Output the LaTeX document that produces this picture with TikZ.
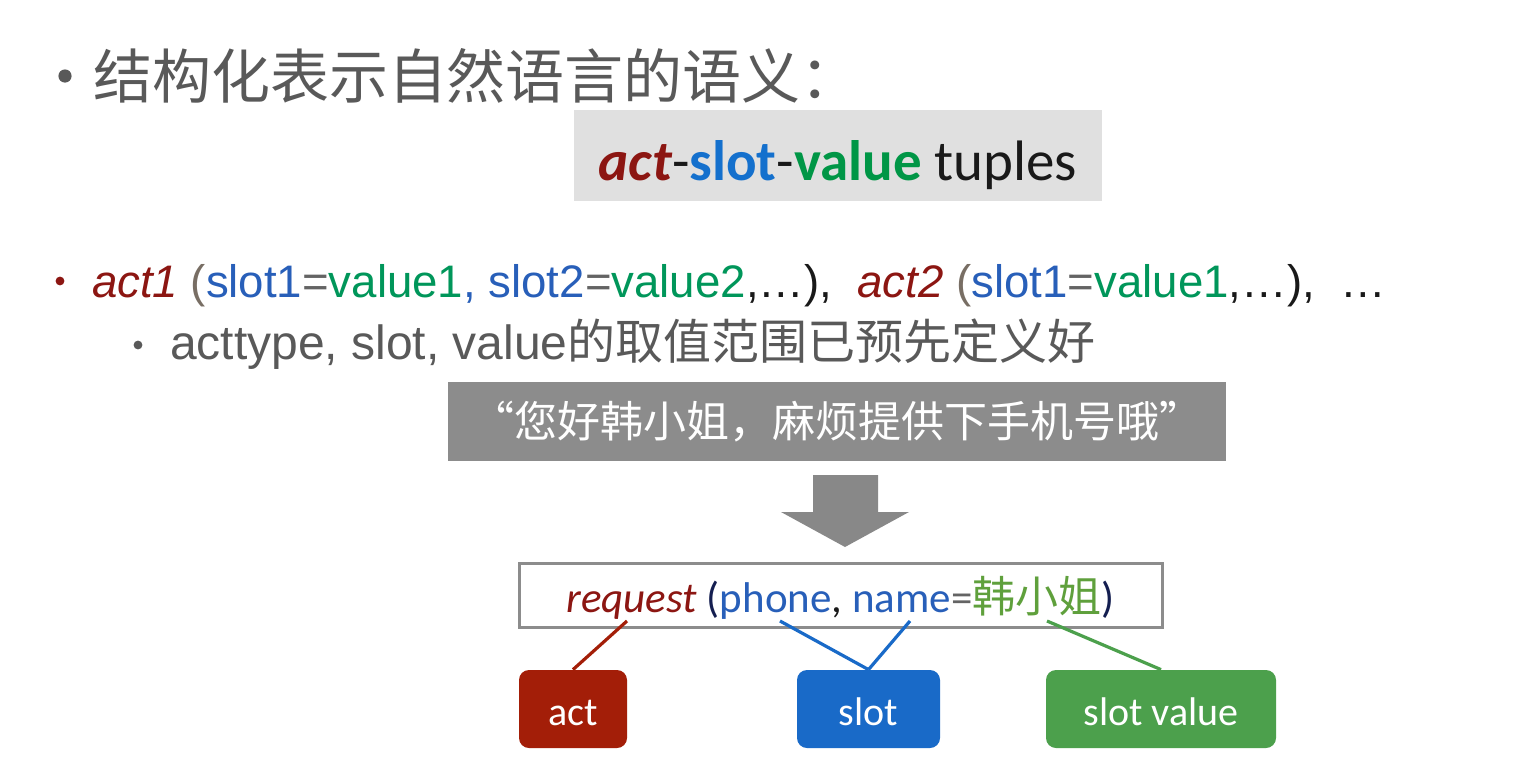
\documentclass[tikz,border=0pt]{standalone}
\usepackage{fontspec}
\newfontfamily\cjkf{Noto Sans CJK SC}
\newfontfamily\calf{Carlito}
\newfontfamily\arif{Liberation Sans}
\definecolor{txtgray}{RGB}{89,89,89}
\definecolor{dark}{RGB}{25,25,25}
\definecolor{actred}{RGB}{140,22,18}
\definecolor{actbox}{RGB}{163,30,8}
\definecolor{slotb}{RGB}{40,95,185}
\definecolor{slotb2}{RGB}{20,112,205}
\definecolor{valg}{RGB}{0,150,90}
\definecolor{valg2}{RGB}{0,150,70}
\definecolor{valg3}{RGB}{95,160,60}
\definecolor{slotbox}{RGB}{25,106,200}
\definecolor{valbox}{RGB}{76,160,76}
\definecolor{eqg}{RGB}{100,100,100}
\definecolor{parg}{RGB}{120,110,100}
\definecolor{navy}{RGB}{20,30,80}
\definecolor{boxgray}{RGB}{224,224,224}
\definecolor{qgray}{RGB}{140,140,140}
\definecolor{arrgray}{RGB}{136,136,136}
\definecolor{boxline}{RGB}{140,140,140}
\begin{document}
\begin{tikzpicture}[x=0.5pt,y=-0.5pt,
  txt/.style={inner sep=0pt, outer sep=0pt},
  tag/.style={rounded corners=5pt, text=white, font=\calf\fontsize{20pt}{24pt}\selectfont,
    minimum height=39pt, text height=16pt, text depth=0pt, inner sep=0pt},
  link/.style={line width=1.6pt}]
\useasboundingbox (0,0) rectangle (1538,766);
\fill[white] (0,0) rectangle (1538,766);

% title
\fill[txtgray] (65,76) circle (3.3pt);
\node[txt, anchor=west, text=txtgray, font=\cjkf\fontsize{29.5pt}{34pt}\selectfont] (title) at (93,76) {结构化表示自然语言的语义：};

% tuple box
\node[fill=boxgray, minimum width=264pt, minimum height=45.5pt, inner sep=0pt,
  text height=24.5pt, text depth=0pt, text=dark, font=\calf\fontsize{28.5pt}{34pt}\selectfont] (tup) at (838,155.5)
  {\textcolor{actred}{\bfseries\itshape act}-\textcolor{slotb2}{\bfseries slot}-\textcolor{valg2}{\bfseries value} tuples};

% line 2
\fill[actred] (60,281) circle (2.2pt);
\node[txt, anchor=base west, text=dark, font=\arif\fontsize{22.8pt}{28pt}\selectfont] (l2) at (92,297)
  {\textcolor{actred}{\itshape act1} \textcolor{parg}{(}\textcolor{slotb}{slot1}\textcolor{eqg}{=}\textcolor{valg}{value1}\textcolor{slotb}{, slot2}\textcolor{eqg}{=}\textcolor{valg}{value2},…),\ \ \textcolor{actred}{\itshape act2} \textcolor{parg}{(}\textcolor{slotb}{slot1}\textcolor{eqg}{=}\textcolor{valg}{value1},…),\ \ …};

% line 3
\fill[txtgray] (138,345) circle (2.2pt);
\node[txt, anchor=base west, text=txtgray, font=\fontsize{24pt}{28pt}\selectfont] (l3) at (170,359)
  {{\arif acttype, slot, value}{\cjkf 的取值范围已预先定义好}};

% quote box
\node[fill=qgray, minimum width=389pt, minimum height=39.5pt, inner sep=0pt, text=white,
  font=\cjkf\fontsize{21.5pt}{26pt}\selectfont] (quote) at (837,421.5) {“您好韩小姐，麻烦提供下手机号哦”};

% block arrow
\fill[arrgray] (813,475) -- (878,475) -- (878,512) -- (909,512) -- (845,547) -- (781,512) -- (813,512) -- cycle;

% request box
\node[draw=boxline, line width=1.5pt, fill=white, minimum width=321.5pt, minimum height=32pt, inner sep=0pt,
  text height=17pt, text depth=0pt, font=\calf\fontsize{21.5pt}{26pt}\selectfont] (req) at (840.5,595)
  {\textcolor{actred}{\itshape request} \textcolor{navy}{(}\textcolor{slotb}{phone}\textcolor{dark}{,} \textcolor{slotb}{name}\textcolor{eqg}{=}\textcolor{valg3}{\cjkf 韩小姐}\textcolor{navy}{)}};

% tags
\node[tag, fill=actbox, minimum width=54pt] (act) at (573,709) {act};
\node[tag, fill=slotbox, minimum width=71.5pt] (slot) at (868.5,709) {slot};
\node[tag, fill=valbox, minimum width=115pt] (sv) at (1161,709) {slot value};

% links
\coordinate (pa) at (627,621);
\coordinate (pb1) at (780,621);
\coordinate (pb2) at (910,621);
\coordinate (pc) at (1047,621);
\draw[link, actbox] (pa) -- (act.north);
\draw[link, slotbox] (pb1) -- (slot.north);
\draw[link, slotbox] (pb2) -- (slot.north);
\draw[link, valbox] (pc) -- (sv.north);
\end{tikzpicture}
\end{document}
